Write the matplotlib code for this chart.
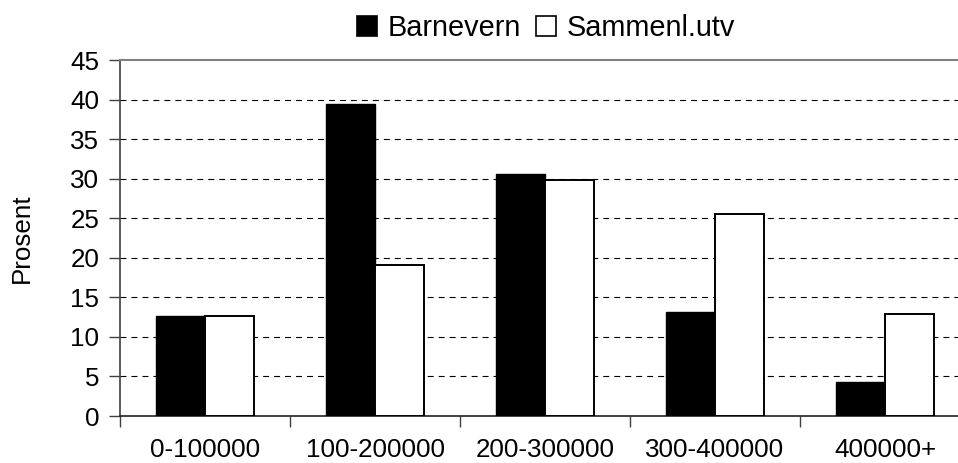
import numpy as np
import matplotlib.pyplot as plt
from matplotlib.patches import Patch

plt.rcParams['font.family'] = ['Liberation Sans', 'DejaVu Sans']
plt.rcParams['lines.scale_dashes'] = False

categories = ['0-100000', '100-200000', '200-300000', '300-400000', '400000+']
barnevern = [12.7, 39.5, 30.6, 13.2, 4.3]
sammenl = [12.6, 19.1, 29.8, 25.5, 12.9]
yticks = [0, 5, 10, 15, 20, 25, 30, 35, 40, 45]

fig = plt.figure(figsize=(9.58, 4.63), dpi=100)
ax = fig.add_axes([120/958, 47/463, 850/958, 356/463])

x = np.arange(len(categories))
w = 0.29
ax.bar(x - w/2, barnevern, w, color='black', edgecolor='black', linewidth=1.0, zorder=3)
ax.bar(x + w/2, sammenl, w, color='white', edgecolor='black', linewidth=1.4, zorder=3)

ax.set_xlim(-0.5, len(categories) - 0.5)
ax.set_ylim(0, 45)
ax.set_yticks(yticks)
for v in yticks[1:-1]:
    ax.axhline(v, color='black', linewidth=0.8, linestyle=(0, (4.3, 3.6)), zorder=1)

fs = 18.7
ax.set_xticks(np.arange(-0.5, len(categories), 1.0))
ax.set_xticklabels([])
ax.set_xticks(x, minor=True)
ax.set_xticklabels(categories, minor=True)
ax.tick_params(axis='x', which='major', length=8, width=1, color='#404040', direction='out')
ax.tick_params(axis='x', which='minor', length=0, pad=16, labelsize=fs)
ax.tick_params(axis='y', length=8, width=1, color='#404040', pad=7, labelsize=fs)

ax.spines['top'].set_color('#808080')
ax.spines['top'].set_linewidth(1.5)
ax.spines['right'].set_visible(False)
ax.spines['left'].set_color('#404040')
ax.spines['left'].set_linewidth(1.2)
ax.spines['bottom'].set_color('#202020')
ax.spines['bottom'].set_linewidth(1.2)

ax.set_ylabel('Prosent', fontsize=fs)
ax.yaxis.set_label_coords((34 - 120) / 850, 0.5)

handles = [Patch(facecolor='black', edgecolor='black', linewidth=1.2),
           Patch(facecolor='white', edgecolor='black', linewidth=1.2)]
fig.legend(handles, ['Barnevern', 'Sammenl.utv'], loc='center', bbox_to_anchor=(546/958, 1 - 28/463),
           ncol=2, frameon=False, fontsize=20.8, handlelength=0.69, handleheight=0.69,
           handletextpad=0.35, columnspacing=0.55, borderpad=0)

fig.savefig('out.png', dpi=100)
